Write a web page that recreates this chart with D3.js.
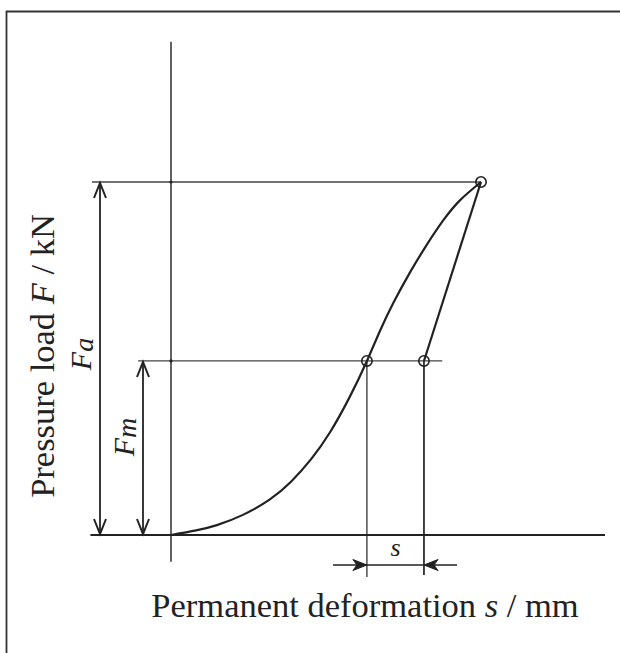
<!DOCTYPE html>
<html>
<head>
<meta charset="utf-8">
<script src="https://cdn.jsdelivr.net/npm/d3@7"></script>
<style>
  html, body { margin: 0; padding: 0; background: #fff; overflow: hidden; }
  svg { display: block; }
  text { font-family: "Liberation Serif", "Times New Roman", serif; fill: #222; }
</style>
</head>
<body>
<div id="chart"></div>
<script>
// loading curve: permanent deformation s vs pressure load F (relative units, Fa = 100)
var loadS = [0, 8.1, 14.8, 23.2, 31.9, 38.7, 45.2, 51.3, 57.7, 63.2, 67.4, 71.7, 77.1, 82.5, 87.8, 93.2, 100];
var loadF = [0, 1.3, 2.8, 5.7, 10.1, 15.1, 21.5, 29.1, 39.2, 49.3, 57.8, 65.7, 74.4, 82.2, 89.1, 94.8, 100];
// unloading line from the peak back to Fm
var unloadS = [100, 81.6];
var unloadF = [100, 49.3];
// marked levels
var levelNames = [["F", "a"], ["F", "m"]];
var levelValues = [100, 49.3];
var sMarks = [63.2, 81.6];

var width = 620, height = 653;
var svg = d3.select("#chart").append("svg").attr("width", width).attr("height", height);

var x = d3.scaleLinear().domain([0, 100]).range([171, 481]);
var y = d3.scaleLinear().domain([0, 100]).range([535, 182]);

var ink = "#222";

// frame: only left and top edges are visible in the picture
svg.append("path")
    .attr("d", "M6.5," + height + "V11.5H" + width)
    .attr("fill", "none").attr("stroke", "#333").attr("stroke-width", 1.8);

var g = svg.append("g");

// axes as bare lines
g.append("line")
    .attr("x1", x(-26)).attr("x2", x(140)).attr("y1", y(0)).attr("y2", y(0))
    .attr("stroke", ink).attr("stroke-width", 2);
g.append("line")
    .attr("x1", x(0)).attr("x2", x(0)).attr("y1", y(139.7)).attr("y2", y(-7.6))
    .attr("stroke", ink).attr("stroke-width", 1.4);

// level lines Fa, Fm
g.append("line")
    .attr("x1", x(-25.5)).attr("x2", x(100)).attr("y1", y(levelValues[0])).attr("y2", y(levelValues[0]))
    .attr("stroke", "#444").attr("stroke-width", 1.3);
g.append("line")
    .attr("x1", x(-10.6)).attr("x2", x(87.5)).attr("y1", y(levelValues[1])).attr("y2", y(levelValues[1]))
    .attr("stroke", "#444").attr("stroke-width", 1.3);

// small dots where level lines cross the axis
levelValues.forEach(function(v){
    g.append("circle").attr("cx", x(0)).attr("cy", y(v)).attr("r", 1.6).attr("fill", ink);
});

// vertical extension lines for s
sMarks.forEach(function(s, i){
    g.append("line")
        .attr("x1", x(s)).attr("x2", x(s))
        .attr("y1", y(levelValues[1])).attr("y2", i == 0 ? 577 : 575)
        .attr("stroke", ink).attr("stroke-width", i == 0 ? 1.2 : 1.7);
});

// curves
var loadPts = loadS.map(function(s, i){ return [x(s), y(loadF[i])]; });
g.append("path")
    .attr("d", d3.line().curve(d3.curveNatural)(loadPts))
    .attr("fill", "none").attr("stroke", ink).attr("stroke-width", 2.2);
var unloadPts = unloadS.map(function(s, i){ return [x(s), y(unloadF[i])]; });
g.append("path")
    .attr("d", d3.line()(unloadPts))
    .attr("fill", "none").attr("stroke", ink).attr("stroke-width", 2.2);

// circle markers
var marks = [[sMarks[0], levelValues[1]], [sMarks[1], levelValues[1]], [100, 100]];
g.selectAll("circle.mark")
    .data(marks)
    .enter()
    .append("circle")
    .attr("class", "mark")
    .attr("cx", (d) => x(d[0]))
    .attr("cy", (d) => y(d[1]))
    .attr("r", 5.2)
    .attr("fill", "none").attr("stroke", ink).attr("stroke-width", 1.6);

// arrow head, tip at (tx,ty), pointing along angle ang; open chevron or barbed
function arrowHead(tx, ty, ang, open){
    var L = open ? 15 : 14, W = open ? 6 : 5.5, N = 10;
    var ca = Math.cos(ang), sa = Math.sin(ang);
    function pt(a, b){ return [tx - a*ca + b*sa, ty - a*sa - b*ca]; }
    var p = open ? [pt(L, W), pt(0, 0), pt(L, -W)] : [pt(0, 0), pt(L, W), pt(N, 0), pt(L, -W)];
    g.append("path")
        .attr("d", "M" + p.map((q) => q[0].toFixed(1) + "," + q[1].toFixed(1)).join("L") + (open ? "" : "Z"))
        .attr("fill", open ? "none" : ink).attr("stroke", ink)
        .attr("stroke-width", open ? 2 : 1).attr("stroke-linejoin", "miter");
}

// Fa and Fm dimension arrows
var dimX = [100, 143];
levelValues.forEach(function(v, i){
    g.append("line")
        .attr("x1", dimX[i]).attr("x2", dimX[i]).attr("y1", y(v) + 1).attr("y2", y(0) - 1)
        .attr("stroke", ink).attr("stroke-width", 1.8);
    arrowHead(dimX[i], y(v) + 1, -Math.PI/2, true);
    arrowHead(dimX[i], y(0) - 1, Math.PI/2, true);
});

// s dimension
var sy = 565;
g.append("line").attr("x1", 333).attr("x2", 457).attr("y1", sy).attr("y2", sy)
    .attr("stroke", ink).attr("stroke-width", 1.4);
arrowHead(x(sMarks[0]), sy, 0, false);
arrowHead(x(sMarks[1]), sy, Math.PI, false);

g.append("text")
    .attr("x", (x(sMarks[0]) + x(sMarks[1]))/2).attr("y", 556)
    .attr("text-anchor", "middle").attr("font-size", 26).attr("font-style", "italic")
    .text("s");

// level labels, rotated
var labelPos = [[91, 354], [134, 437]];
levelNames.forEach(function(nm, i){
    var t = g.append("text")
        .attr("transform", "translate(" + labelPos[i][0] + "," + labelPos[i][1] + ") rotate(-90)")
        .attr("text-anchor", "middle").attr("font-size", 30).attr("font-style", "italic");
    t.append("tspan").text(nm[0]);
    t.append("tspan").attr("dy", 2).attr("font-size", 28).text(nm[1]);
});

// axis titles
var yt = svg.append("text")
    .attr("transform", "translate(54,356) rotate(-90)")
    .attr("text-anchor", "middle").attr("font-size", 34.5);
yt.append("tspan").text("Pressure load  ");
yt.append("tspan").attr("font-style", "italic").text("F");
yt.append("tspan").text(" / kN");

var xt = svg.append("text")
    .attr("x", 365).attr("y", 617)
    .attr("text-anchor", "middle").attr("font-size", 34.5);
xt.append("tspan").text("Permanent deformation  ");
xt.append("tspan").attr("font-style", "italic").text("s");
xt.append("tspan").text(" / mm");
</script>
</body>
</html>
